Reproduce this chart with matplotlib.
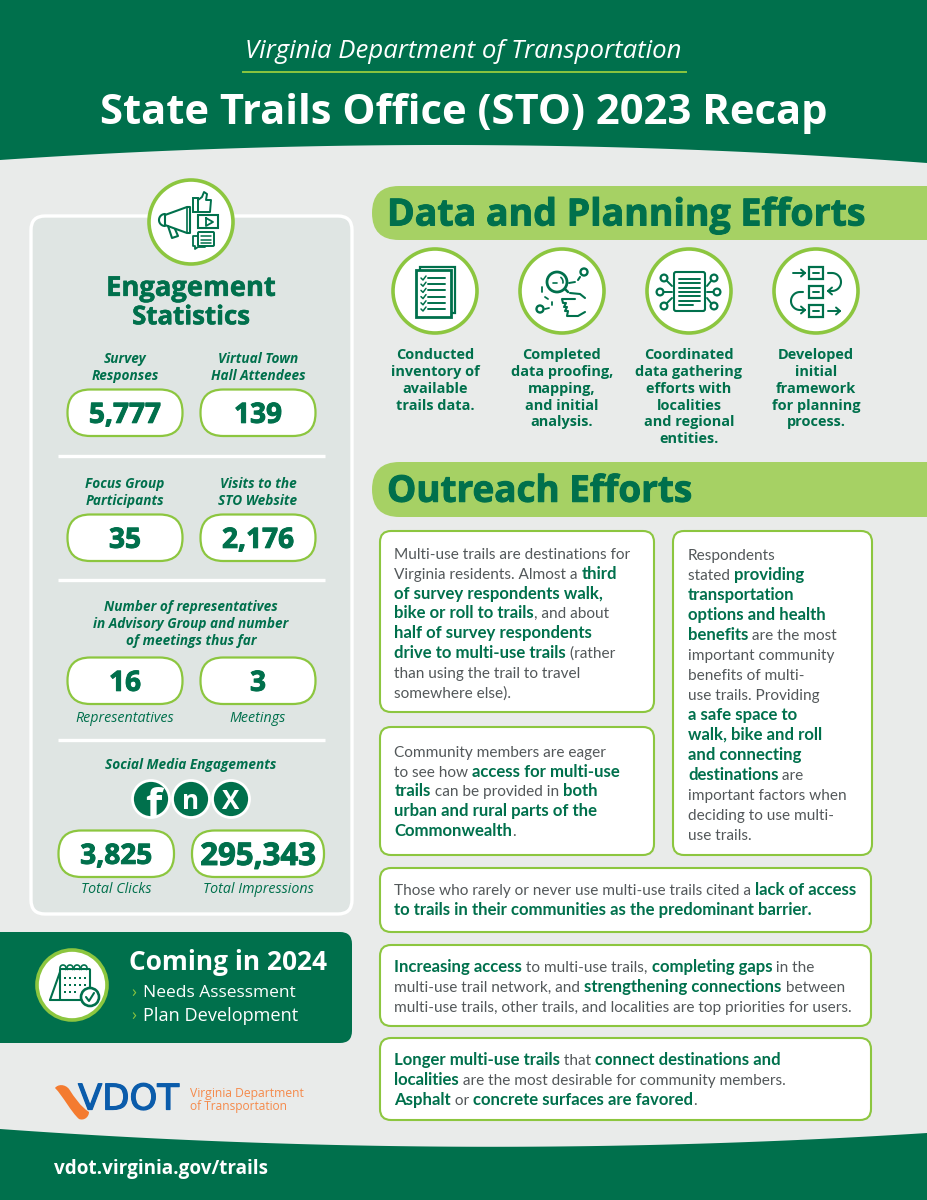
import numpy as np
import matplotlib
matplotlib.use("Agg")
import matplotlib.pyplot as plt
import matplotlib.patheffects as pe
from matplotlib.patches import FancyBboxPatch, Circle, Rectangle, PathPatch, Polygon
from matplotlib.path import Path
from matplotlib.font_manager import FontProperties

# ---------- content ----------
header_sub = "Virginia Department of Transportation"
header_title = "State Trails Office (STO) 2023 Recap"
engagement_title = ["Engagement", "Statistics"]
top_labels = [["Survey", "Responses"], ["Virtual Town", "Hall Attendees"]]
top_values = ["5,777", "139"]
mid_labels = [["Focus Group", "Participants"], ["Visits to the", "STO Website"]]
mid_values = ["35", "2,176"]
rep_heading = ["Number of representatives", "in Advisory Group and number", "of meetings thus far"]
rep_values = ["16", "3"]
rep_labels = ["Representatives", "Meetings"]
social_heading = "Social Media Engagements"
social_values = ["3,825", "295,343"]
social_labels = ["Total Clicks", "Total Impressions"]
coming_title = "Coming in 2024"
coming_items = ["Needs Assessment", "Plan Development"]
planning_heading = "Data and Planning Efforts"
outreach_heading = "Outreach Efforts"
planning_items = [
    ["Conducted", "inventory of", "available", "trails data."],
    ["Completed", "data proofing,", "mapping,", "and initial", "analysis."],
    ["Coordinated", "data gathering", "efforts with", "localities", "and regional", "entities."],
    ["Developed", "initial", "framework", "for planning", "process."],
]
box1 = ["Multi-use trails are destinations for",
        "Virginia residents. Almost a **third**",
        "**of survey respondents walk,**",
        "**bike or roll to trails**, and about",
        "**half of survey respondents**",
        "**drive to multi-use trails** (rather",
        "than using the trail to travel",
        "somewhere else)."]
box2 = ["Community members are eager",
        "to see how **access for multi-use**",
        "**trails** can be provided in **both**",
        "**urban and rural parts of the**",
        "**Commonwealth**."]
box3 = ["Respondents", "stated **providing**", "**transportation**", "**options and health**",
        "**benefits** are the most", "important community", "benefits of multi-",
        "use trails. Providing", "**a safe space to**", "**walk, bike and roll**",
        "**and connecting**", "**destinations** are", "important factors when",
        "deciding to use multi-", "use trails."]
box4 = ["Those who rarely or never use multi-use trails cited a **lack of access**",
        "**to trails in their communities as the predominant barrier.**"]
box5 = ["**Increasing access** to multi-use trails, **completing gaps** in the",
        "multi-use trail network, and **strengthening connections** between",
        "multi-use trails, other trails, and localities are top priorities for users."]
box6 = ["**Longer multi-use trails** that **connect destinations and**",
        "**localities** are the most desirable for community members.",
        "**Asphalt** or **concrete surfaces are favored**."]
footer_url = "vdot.virginia.gov/trails"

# ---------- style ----------
GREEN = "#00704c"
LIME = "#8cc63f"
BAND = "#a6d164"
BG = "#e9ebea"
PANEL = "#dfe5e3"
GREY = "#53585a"
FONT = "Open Sans"
BODY = "Lato"
BODY_REG = 15.4
BODY_BOLD = 16.8

fig = plt.figure(figsize=(9.27, 12), dpi=100, facecolor=BG)
ax = fig.add_axes([0, 0, 1, 1])
ax.set_xlim(0, 927)
ax.set_ylim(1200, 0)
ax.axis("off")
renderer = fig.canvas.get_renderer()


def fp(px, weight="normal", style="normal", family=FONT):
    return FontProperties(family=family, size=px * 0.72, weight=weight, style=style)


def width(s, px, weight="normal", style="normal", family=FONT):
    w, _, _ = renderer.get_text_width_height_descent(s, fp(px, weight, style, family), False)
    return w


def T(x, y, s, px, color=GREEN, weight="normal", style="normal", ha="center", fit=None, z=10, heavy=0):
    if fit is not None:
        px = px * fit / width(s, px, weight, style)
    t = ax.text(x, y + 0.36 * px, s, fontproperties=fp(px, weight, style), color=color,
                ha=ha, va="baseline", zorder=z)
    if heavy:
        t.set_path_effects([pe.withStroke(linewidth=heavy, foreground=color)])
    return t


def rich(x, ys, lines):
    for y, line in zip(ys, lines):
        parts = line.split("**")
        cx = x
        for i, part in enumerate(parts):
            if not part:
                continue
            bold = i % 2 == 1
            weight = "bold" if bold else "normal"
            px = BODY_BOLD if bold else BODY_REG
            ax.text(cx, y + 5.8, part, fontproperties=fp(px, weight, family=BODY),
                    color=GREEN if bold else GREY, ha="left", va="baseline", zorder=10)
            cx += width("|" + part + "|", px, weight, family=BODY) - width("||", px, weight, family=BODY)


def rbox(x0, y0, x1, y1, r, fc="white", ec=LIME, lw=1.5, z=3):
    ax.add_patch(FancyBboxPatch((x0 + r, y0 + r), x1 - x0 - 2 * r, y1 - y0 - 2 * r,
                                boxstyle=f"round,pad={r},rounding_size={r}",
                                fc=fc, ec=ec, lw=lw, zorder=z))


def pill(x0, y0, x1, y1, value, px=28, fit=None):
    rbox(x0, y0, x1, y1, (y1 - y0) / 2 - 0.5, lw=1.6)
    T((x0 + x1) / 2, (y0 + y1) / 2, value, px, weight="bold", fit=fit, heavy=0.7)


def badge(cx, cy, r, lw=2.6):
    ax.add_patch(Circle((cx, cy), r, fc="white", ec=LIME, lw=lw, zorder=4))


def L(xs, ys, lw=1.5, c=GREEN, z=6):
    ax.plot(xs, ys, color=c, lw=lw, solid_capstyle="round", solid_joinstyle="round", zorder=z)


def R(x0, y0, x1, y1, lw=1.5, fc="none", c=GREEN, z=6):
    ax.add_patch(Rectangle((x0, y0), x1 - x0, y1 - y0, fc=fc, ec=c, lw=lw, zorder=z))


def C(x, y, r, lw=1.5, fc="white", c=GREEN, z=6):
    ax.add_patch(Circle((x, y), r, fc=fc, ec=c, lw=lw, zorder=z))


def arc(cx, cy, r, a0, a1, lw=1.5, c=GREEN):
    t = np.radians(np.linspace(a0, a1, 30))
    L(cx + r * np.cos(t), cy + r * np.sin(t), lw=lw, c=c)


def arrow(x0, y0, x1, y1, lw=1.4):
    L([x0, x1], [y0, y1], lw=lw)
    d = np.array([x1 - x0, y1 - y0], float)
    d /= np.hypot(*d)
    n = np.array([-d[1], d[0]])
    for s in (1, -1):
        p = np.array([x1, y1]) - 4 * d + s * 3.5 * n
        L([p[0], x1], [p[1], y1], lw=lw)


# ---------- header / footer ----------
hx = np.linspace(0, 927, 200)
hc = np.polyfit([0, 430, 927], [160, 145, 163], 2)
ax.add_patch(Polygon(np.r_[[[0, 0]], np.c_[hx, np.polyval(hc, hx)], [[927, 0]]], fc=GREEN, ec="none", zorder=1))
fc_ = np.polyfit([0, 360, 927], [1129, 1145.5, 1133], 2)
ax.add_patch(Polygon(np.r_[[[0, 1200]], np.c_[hx, np.polyval(fc_, hx)], [[927, 1200]]], fc=GREEN, ec="none", zorder=1))
T(463.5, 49, header_sub, 25, color="white", style="italic", fit=437)
ax.plot([243, 686], [72, 72], color=LIME, lw=1.4, zorder=5)
T(463.5, 109, header_title, 43, color="white", weight="bold", fit=728)
T(54, 1167, footer_url, 20, color="white", weight="bold", ha="left", fit=213)

# ---------- left panel ----------
rbox(31, 216, 352, 914, 14, fc=PANEL, ec="white", lw=2.4, z=2)
badge(191, 222, 42)
T(191, 286, engagement_title[0], 27, weight="bold", fit=170, heavy=0.4)
T(191, 315, engagement_title[1], 27, weight="bold", fit=118, heavy=0.4)

# megaphone icon
L([165, 187, 190, 190, 187, 165, 165], [215, 207, 207, 233, 233, 225, 215], lw=1.5)
L([187, 187], [208, 232], lw=1.2)
arc(165, 220, 6, 90, 270, lw=1.5)
L([168, 172, 178, 175], [226, 238, 236, 229], lw=1.5)
# thumb
R(193, 198, 198, 212, lw=1.4)
L([198, 202, 204, 207, 206, 211, 210, 198], [200, 197, 192, 194, 200, 200, 212, 212], lw=1.4)
# play box
R(198, 215, 218, 228, lw=1.5)
L([206, 206, 213, 206], [218, 226, 222, 218], lw=1.3)
# chat boxes
L([197, 193, 193, 195, 195, 198, 205], [236, 236, 246, 246, 249, 247, 247], lw=1.3)
rbox(198, 232, 214, 246, 1, fc="white", ec=GREEN, lw=1.4, z=6)
for yy in (236, 239.5, 243):
    L([201, 211], [yy, yy], lw=1.1, z=7)

centers = [125, 258]
LAB = 13.6
SUB = 14.2
for cx, lab, val in zip(centers, top_labels, top_values):
    T(cx, 358, lab[0], LAB, weight="bold", style="italic")
    T(cx, 375, lab[1], LAB, weight="bold", style="italic")
    pill(cx - 57.5, 389.5, cx + 57.5, 436, val)
for cx, lab, val in zip(centers, mid_labels, mid_values):
    T(cx, 483, lab[0], LAB, weight="bold", style="italic")
    T(cx, 500, lab[1], LAB, weight="bold", style="italic")
    pill(cx - 57.5, 514.5, cx + 57.5, 561, val)
for yy, s in zip((606, 623, 640), rep_heading):
    T(191, yy, s, LAB, weight="bold", style="italic")
for cx, val, lab in zip(centers, rep_values, rep_labels):
    pill(cx - 57.5, 657.5, cx + 57.5, 704, val)
    T(cx, 717, lab, SUB, style="italic")
for yy in (456, 580, 740):
    ax.plot([58, 325], [yy, yy], color="white", lw=2.4, zorder=3, solid_capstyle="butt")
T(191, 764, social_heading, LAB, weight="bold", style="italic")
for cx, glyph in zip((151, 191, 231), ("f", "n", "X")):
    disc = Circle((cx, 799), 18.5, fc=GREEN, ec="white", lw=2, zorder=4)
    ax.add_patch(disc)
    t = T(cx + (2 if glyph == "f" else 0), 800 if glyph != "f" else 803, glyph,
          42 if glyph == "f" else 26, color="white", weight="bold")
    t.set_clip_path(disc)
pill(58.5, 830.5, 174, 877, social_values[0])
pill(192, 830.5, 324, 877, social_values[1], fit=116)
T(116, 888, social_labels[0], SUB, style="italic")
T(258, 888, social_labels[1], SUB, style="italic")

# ---------- coming box ----------
ax.add_patch(Rectangle((0, 932), 200, 111, fc=GREEN, ec="none", zorder=2))
rbox(100, 932, 352, 1043, 12, fc=GREEN, ec="none", lw=0, z=2)
badge(72, 985, 35)
# calendar
L([50, 60], [1000, 972], lw=1.5)
L([50, 60], [1000, 1000], lw=1.5)
rbox(60, 969, 90, 1000, 1, fc="white", ec=GREEN, lw=1.5, z=6)
for xx in (63, 70, 77, 84):
    arc(xx, 968, 3, 150, 390, lw=1.2)
for yy, cols in zip((978, 985, 992), ((65, 70, 75, 80, 85), (65, 70, 75, 80, 85), (65, 70, 75))):
    for xx in cols:
        ax.add_patch(Rectangle((xx - 1.1, yy - 1.1), 2.2, 2.2, fc=GREEN, ec="none", zorder=7))
C(90, 997, 9, lw=1.9, z=8)
L([86, 89, 94], [997, 1001, 993], lw=1.5, z=9)
T(129, 961, coming_title, 26, color="white", weight="bold", ha="left", fit=198)
for yy, s in zip((991, 1014), coming_items):
    T(131, yy, "\u203a", 16, color=LIME, ha="left")
    T(143, yy, s, 18, color="white", ha="left", fit=152 if s.startswith("N") else 155)

# ---------- VDOT logo ----------
verts = [(55, 1088), (58, 1084), (65, 1084), (69, 1089),
         (75, 1098), (80, 1106), (89, 1112),
         (89, 1117), (84, 1121), (79, 1119),
         (71, 1112), (63, 1096), (55, 1088)]
codes = [Path.MOVETO] + [Path.CURVE4] * 12
ax.add_patch(PathPatch(Path(verts, codes), fc="#f47b30", ec="none", zorder=5))
ax.text(78, 1109.5, "VDOT", fontproperties=FontProperties(family="DejaVu Sans", size=25.5),
        color="#0b5cab", ha="left", va="baseline", zorder=6,
        path_effects=[pe.withStroke(linewidth=0.9, foreground="#0b5cab")])
T(190, 1093, "Virginia Department", 11.5, color="#f58a4b", ha="left", fit=114)
T(190, 1106, "of Transportation", 11.5, color="#f58a4b", ha="left", fit=97)

# ---------- right bands ----------
for y0, y1, s, w in ((186, 240, planning_heading, 478), (462, 517, outreach_heading, 305)):
    rbox(372, y0, 1000, y1, (y1 - y0) / 2, fc=BAND, ec="none", lw=0, z=2)
    T(387, (y0 + y1) / 2 - 1, s, 37, weight="bold", ha="left", fit=w, heavy=0.7)

# ---------- planning icons ----------
icx = [435, 562, 689, 816]
for cx, item in zip(icx, planning_items):
    badge(cx, 291, 42)
    for yy, s in zip((354, 371, 388, 405, 421, 438), item):
        T(cx, yy, s, 14.5, weight="bold")

# doc list
R(420, 267, 455, 313, lw=1.6)
R(416, 270, 451, 317, lw=2, fc="white", z=7)
for yy in np.arange(278, 311, 6.2):
    L([428, 445], [yy, yy], lw=1.4, z=8)
    L([421, 423, 426], [yy, yy + 2, yy - 2], lw=1.1, z=8)
# magnifier & hand
C(557, 282, 10, lw=2)
L([553, 557], [282.5, 282.5], lw=1.2)
arc(557, 282, 6, -50, 10, lw=1.2)
L([565, 568], [289, 292], lw=1.8)
L([569, 575], [283, 282], lw=1.4)
C(584, 272, 3.5, lw=1.7)
L([580, 578], [277, 280], lw=1.5)
C(540, 309, 3.5, lw=1.7)
L([545, 549], [309, 308], lw=1.3)
L([542, 542], [287, 292], lw=1.3)
L([545, 548], [297, 299], lw=1.3)
L([552, 552], [302, 305], lw=1.3)
L([570, 580, 585], [293, 294, 298], lw=1.5)
L([575, 562, 563, 566, 564, 567, 565, 568, 567, 578, 585],
  [299, 299, 303, 303, 307, 307, 311, 311, 316, 316, 312], lw=1.5)
# coordinated doc
rbox(674, 272, 705, 311, 2, fc="white", ec=GREEN, lw=1.5, z=6)
for yy, xe in zip(np.arange(279, 305, 4.3), (700, 700, 700, 700, 700, 700, 693)):
    L([679, xe], [yy, yy], lw=1.4, z=7)
for (nx, ny), (ax0, ay0), (ax1, ay1) in (
    ((664, 278), (667, 281), (672, 286)), ((660, 292), (664, 292), (672, 292)),
    ((664, 306), (667, 303), (672, 298)), ((714, 278), (711, 281), (707, 286)),
    ((717, 292), (713, 292), (707, 292)), ((714, 306), (711, 303), (707, 298))):
    C(nx, ny, 3.4, lw=1.6)
    L([ax0, ax1], [ay0, ay1], lw=1.4)
# framework
for y0 in (267, 286, 305):
    R(809, y0, 823, y0 + 12, lw=1.6)
    L([813, 819], [y0 + 6, y0 + 6], lw=1.4)
arrow(793, 273, 805, 273)
arrow(828, 311, 840, 311)
L([828, 832], [273, 273])
arc(832, 282, 9, -90, 90)
arrow(832, 291, 828, 291)
L([803, 800], [292, 292])
arc(800, 301, 9, 90, 270)
arrow(800, 310, 805, 310)

# ---------- text boxes ----------
rbox(380, 531, 654, 712, 11)
rich(394.5, np.linspace(553, 692, 8), box1)
rbox(380, 727, 654, 855, 11)
rich(394.5, np.linspace(751, 830, 5), box2)
rbox(673, 531, 872, 855, 11)
rich(688, np.linspace(554, 834, 15), box3)
rbox(380, 868, 871, 932, 11)
rich(394.5, [889, 909], box4)
rbox(380, 945, 871, 1026, 11)
rich(394.5, [966, 986, 1006], box5)
rbox(380, 1038, 871, 1120, 11)
rich(394.5, [1059, 1079, 1099], box6)

fig.savefig("out.png", dpi=100, facecolor=BG)
